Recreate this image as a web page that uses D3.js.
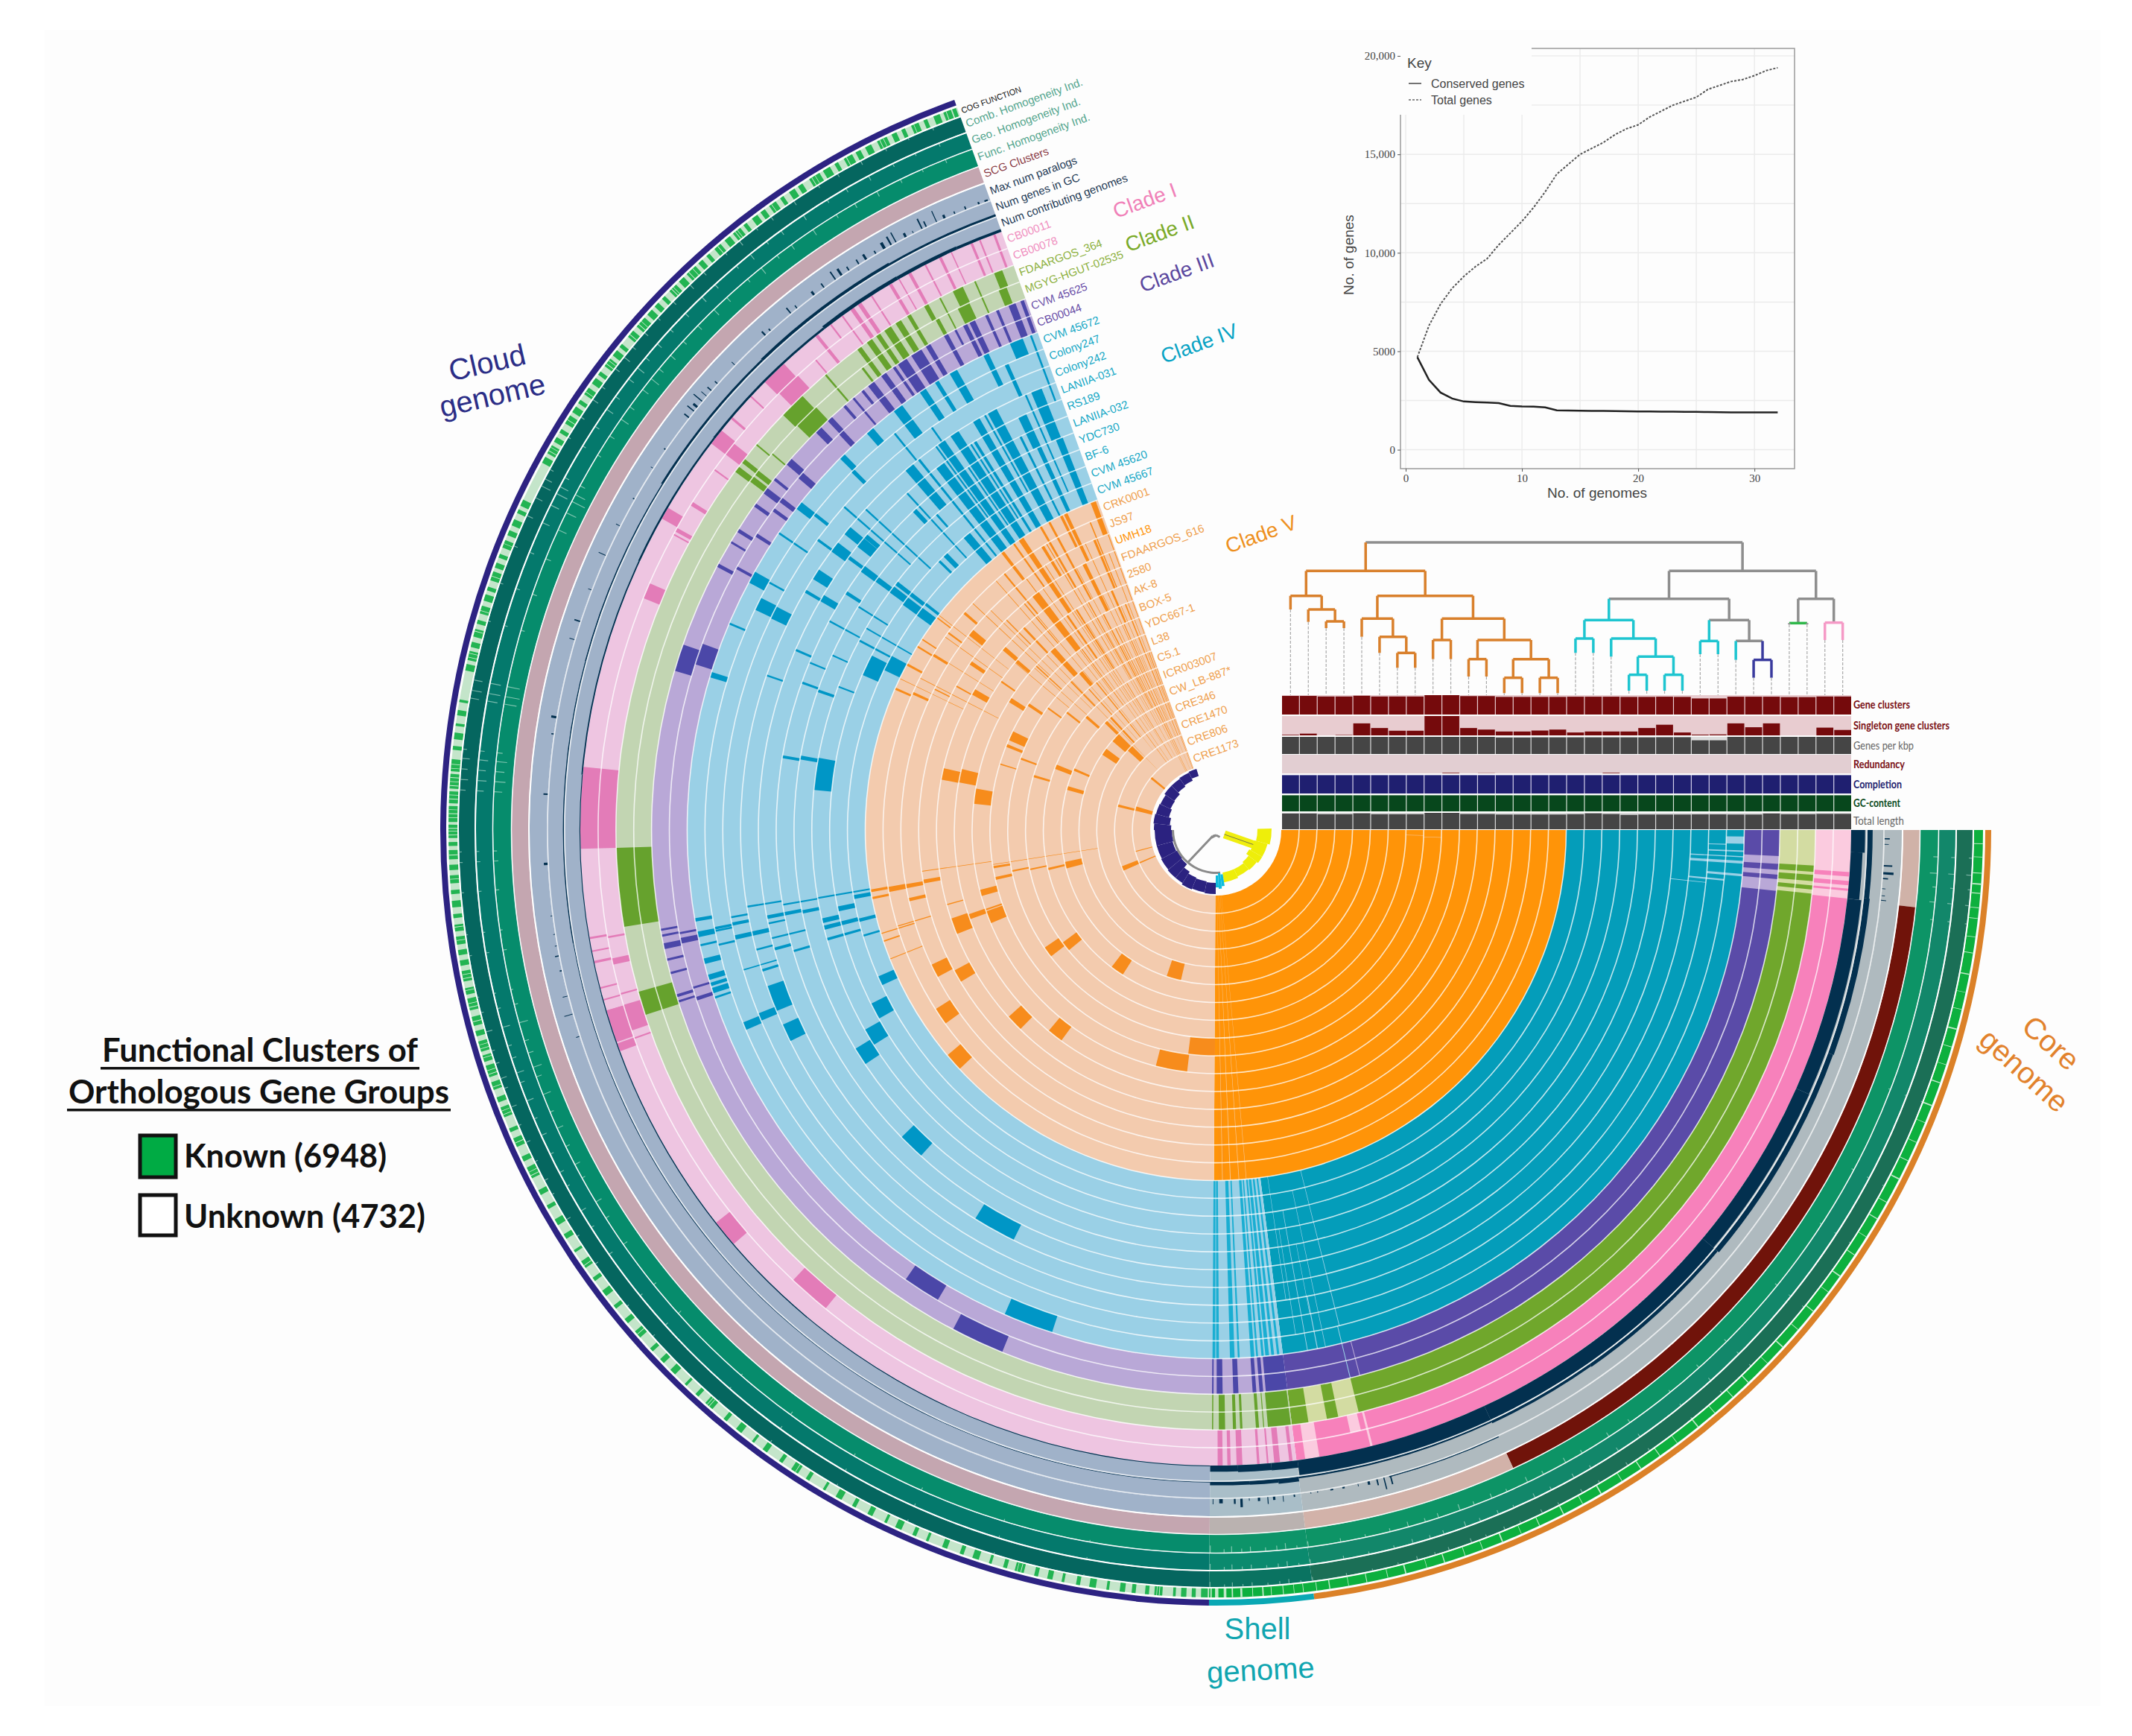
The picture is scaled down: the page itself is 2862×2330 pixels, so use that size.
<!DOCTYPE html>
<html>
<head>
<meta charset="utf-8">
<script src="https://cdn.jsdelivr.net/npm/d3@7"></script>
<style>
body { margin: 0; background: #fff; }
text { font-family: "Liberation Sans", Arial, sans-serif; }
</style>
</head>
<body>
<div id="chart"></div>
<script>
// genomes, outermost ring first
var clade1 = ["CB00011", "CB00078"];
var clade2 = ["FDAARGOS_364", "MGYG-HGUT-02535"];
var clade3 = ["CVM 45625", "CB00044"];
var clade4 = ["CVM 45672", "Colony247", "Colony242", "LANIIA-031", "RS189", "LANIIA-032", "YDC730", "BF-6", "CVM 45620", "CVM 45667"];
var clade5 = ["CRK0001", "JS97", "UMH18", "FDAARGOS_616", "2580", "AK-8", "BOX-5", "YDC667-1", "L38", "C5.1", "ICR003007", "CW_LB-887*", "CRE346", "CRE1470", "CRE806", "CRE1173"];
var layerNames = ["Num contributing genomes", "Num genes in GC", "Max num paralogs", "SCG Clusters", "Func. Homogeneity Ind.", "Geo. Homogeneity Ind.", "Comb. Homogeneity Ind.", "COG FUNCTION"];

// pangenome zones in degrees along the arc, clockwise from the start
var coreEnd = 82.7, shellEnd = 90.5, arcEnd = 250.3;

// strips: [position, width, inner ring, outer ring]; ring 0 is the innermost genome
var orangeStrips = [
  [159.8,3.4,11,11],[160.6,1.5,10,10],[159,3,9,9],[144,3,7,7],[142.2,3,6,6],[125,4.5,5,5],[105.8,5.5,4,4],[153.4,2.5,13,13],[150.5,2.5,12,12],
  [145.9,3,14,14],[136.2,3.5,11,11],[128,3.5,10,10],[93.6,6.8,8,8],[100.5,7.5,9,9],[138.5,3,15,15],
  [166.8,2.5,4,4],[166.9,1,5,5],[168,.6,6,6],[168.6,.6,7,7],[167.6,1,8,8],[170.5,.8,8,8],[165,2,9,9],[170,1,12,12],[169.7,1,13,13],[169.7,1.2,14,14],
  [170,.6,15,15],[168.8,.5,15,15],[167.2,.8,13,13],[161.5,.3,15,15],[160.9,.5,9,9],[157.6,2.5,1,1],[165,.8,0,0],[156.7,1.2,0,1],[164.5,.3,11,11],[163.2,.25,13,14],
  [172,.2,9,12],[171.2,.2,3,8],[162.8,.25,14,15],[158.4,.2,14,15],
  [194,2,1,1],[195,3,0,0],[222.7,4,3,3],[215.1,3,3,3],[223.6,3,2,2],[218.9,2,0,0],[204.7,2.5,8,8],[202,1,8,8],[200.1,.7,7,7],[197,.4,8,8],
  [191.6,2.4,11,11],[192,3,10,10],[188,3.6,9,9],[201.6,2,5,5],[203.1,1.2,4,4],[196.5,.9,6,6],[195.8,2,4,4],
  [209.7,1.7,11,11],[212.3,1.5,9,9],[213.8,1,8,8],[214.3,1,12,12],[218.9,1.7,13,13],[220.6,1.2,11,11],[220.3,1,10,10],[220.8,.6,14,14],[204.3,.6,14,14],
  [203.8,.5,15,15],[211.8,.6,14,14],[208.2,.5,15,15],[211.6,.4,15,15],[206.6,.3,13,13],[209,.4,12,12],[213,.3,15,15],[216.4,.4,14,14],[217.3,.3,15,15],
  [214.7,.5,10,10],[216,.6,7,7],[218.3,.8,6,6],[221.2,1.2,5,5],[224.5,1.6,4,4],[225.7,.5,6,7],[222.4,.4,8,9],
  [249.5,1.2,14,15],[244.6,.8,13,15],[243.8,.6,14,15],[236.2,1.2,11,15],[232.6,2,9,12],[232.5,.7,14,15],[247.3,.6,11,13],[246.5,.6,9,10],
  [243.7,1,10,12],[243.6,.3,5,8],[227.9,1.8,8,9],[229.4,1.5,7,7],[240,.5,12,15],[238.6,.7,13,14],[241.6,.5,11,15],[234.8,.4,13,15],[230.5,.4,12,14],
  [246,.3,3,8],[248.2,.4,2,9],[249.4,.3,0,6],[245,.3,1,6],[242.5,.4,4,9],[240.8,.3,6,10],[237.7,.5,7,10],[235.3,.6,8,10],[233.5,.3,5,8],[231,.5,3,6],
  [228,.4,5,6],[226.5,.6,10,11],[225.1,.3,11,12],[227,1,3,4],[229.8,.3,10,12],[247.8,.3,11,14],[250,.2,0,13],[244,.3,0,4],[238.8,.3,1,5],[234,.3,1,3],
  [248.9,.18,3,12],[247.1,.15,0,9],[246.6,.15,2,7],[245.5,.18,6,13],[244.3,.15,2,10],[243,.2,0,7],[242,.15,3,12],[241.1,.18,1,8],[240.3,.15,4,11],[239.4,.2,7,14],[238.1,.15,2,9],[237.2,.18,3,13],[236.6,.15,5,10],[235.8,.18,1,7],[234.4,.15,4,12],[233,.2,6,13],[231.8,.15,2,8],[230.2,.18,7,11],[229,.15,3,6],[228.6,.15,10,14],[226,.15,1,9],[224.3,.15,6,13],[223,.15,9,14],[221.8,.12,6,9],[219.8,.15,7,10],[217.8,.12,11,15],[215.5,.15,11,14],[212,.12,11,13],[207.2,.15,10,14],[205.6,.12,12,15],
  [89.4,.12,0,15],[88.6,.1,0,15]
];
var tealStrips = [
  [159.2,3.2,22,22],[157.7,1.2,23,23],[157.4,1.2,24,24],[154.7,2.2,22,22],[155.8,2,16,16],[152,2.5,17,17],[149.1,2.5,18,18],[147.5,2.5,19,19],
  [133.9,3.5,20,20],[119,5.5,21,21],[110.8,5.5,25,25],
  [170.2,.5,25,25],[168.6,.8,25,25],[167.4,.3,25,25],[165.6,.8,25,25],[163.8,.8,25,25],[163,.5,25,25],[162.3,.8,25,25],[161.5,.3,25,25],
  [168.9,.4,24,24],[167,.3,24,24],[168.6,.3,24,24],[169.8,.3,23,23],[169,.5,23,23],[167.4,.7,22,23],[165.4,.3,22,22],[163.5,.2,22,23],[162.8,.4,22,22],
  [170.7,.3,21,22],[169,.6,20,21],[168.2,.3,21,21],[166.3,.3,20,21],[164.9,.5,21,21],[164,.4,20,20],[170.2,.3,19,20],[168.8,.6,19,19],[167,.9,18,18],
  [166,.8,17,18],[164.3,.5,17,18],[170.3,.3,16,18],[169.5,.8,16,16],[168.2,1,17,17],[165.8,.7,16,16],[163.3,.4,16,16],
  [197.1,.8,25,25],[208.6,1.8,25,25],[206.3,2,24,24],[206.2,2,23,23],[217.9,1.2,25,25],[225,.9,25,25],[229.1,1.2,25,25],[224.7,.6,24,24],[218.2,.5,24,24],
  [209,.3,24,24],[203,.3,25,25],[214.2,.3,24,25],[233,1.5,24,25],[236.3,1,24,25],[238.1,.6,24,25],[240.2,1.2,24,25],[244.2,.8,24,25],[247.8,2,25,25],
  [249.5,.3,22,25],[231,.3,23,24],[234.8,.3,22,23],
  [219.1,1.5,22,22],[219,1.8,21,21],[220,.8,21,21],[216.6,1.8,22,22],[216.1,.4,23,23],[216.6,.6,21,21],[216.5,1,19,19],[216.5,1.2,20,20],[216.6,1.4,18,18],
  [216.4,1.8,17,17],[216.4,2,16,16],[217.7,.8,17,18],[217.9,.6,16,16],[212.6,1.8,22,22],[210.2,.5,22,22],[210.5,1.2,21,21],[212.7,.6,20,20],[208.4,.3,19,20],
  [205.3,3.2,17,17],[207,2.5,16,16],[203.2,.4,21,21],[199.3,.5,19,19],[199.6,.4,20,20],[189.6,.5,20,20],[189.9,.7,19,19],[188,4.6,18,18],
  [210,.3,16,18],[212,.3,18,19],[208,.4,17,18],[204.5,.3,19,19],[202.4,.3,20,20],[200.8,.3,18,18],[199,.3,22,22],[221,.3,19,23],[222.5,.3,18,22],[224.2,.5,17,17],
  [225.5,1,17,17],[226.7,.8,20,20],[228.5,.4,19,19],[227.5,.3,17,21],[231.3,.4,16,22],
  [248.2,1.3,16,19],[247.8,1.8,20,22],[241.9,1.6,16,22],[239.7,1.2,16,22],[236.6,1.5,16,22],[234.7,1.3,16,22],[232.9,1.6,16,21],[229.8,1.6,16,17],[229.8,1.6,20,22],
  [245.2,.8,16,21],[243.6,.4,16,20],[238.2,.5,16,21],[246.4,.3,17,22],[244.7,.8,20,21],[237.6,.3,17,21],[240.9,.3,18,22],[235.7,.3,17,20],[233.9,.3,18,22],[245.8,.6,23,24]
];
var purpleStrips = [
  [122.6,4,26,26],[115,5.5,27,27],[197.8,2.8,27,27],[198.8,2.3,26,26],
  [169.8,.3,27,27],[169.2,.3,27,27],[168.1,.8,27,27],[166.7,.3,27,27],[165.3,.3,27,27],[162.9,.4,27,27],[162.3,.3,27,27],
  [169.1,.3,26,26],[168.3,.8,26,26],[163.2,.3,26,26],[162,.5,26,26],
  [208,.5,27,27],[208.7,.4,26,26],[210.7,.3,27,27],[212.1,.5,27,27],[212.7,.5,26,26],[215.2,.5,27,27],[215.9,.5,26,26],[217,.9,27,27],[217.2,.7,26,26],
  [218.5,.4,27,27],[220.8,1,27,27],[220.5,1,26,26],[225.2,1,27,27],[226.8,.8,27,27],[226.7,.8,26,26],[228.8,.4,27,27],
  [232.3,1,26,27],[233.9,.8,26,27],[236.2,1.4,26,27],[237.9,1.6,26,27],[235.2,.4,26,27],[231.2,.4,27,27],[230,.3,26,27],[239.3,.7,26,27],
  [241.4,.6,26,27],[243.6,.6,26,27],[244.4,.8,26,27],[242.5,.3,27,27],[246,.4,26,27],[247.2,.4,26,27],[248.8,1,26,27],[249.9,.5,26,27],
  [90.3,.2,26,27],[89.6,.8,26,27],[87.95,.7,26,27],[86.05,.5,26,27],[85.35,.5,26,27],[83.8,2.2,26,27]
];
var greenStrips = [
  [174.5,7.6,28,29],[163.2,2.3,28,29],[225.1,2.6,29,29],[225.3,2.6,28,28],[217,.8,29,29],[218,.6,29,29],[217.9,.7,28,28],[217.1,.8,28,28],
  [220,.2,29,29],[220.3,.2,28,28],[229.4,.25,28,29],
  [233.5,.6,28,29],[234.7,.8,28,29],[235.7,.6,28,29],[236.8,1,28,29],[238,.8,28,29],[239.2,.5,28,29],[232.6,.3,28,28],[241.1,.6,29,29],[241.4,.5,28,28],
  [242.6,.2,28,29],[244.5,1.4,29,29],[244.3,1.7,28,28],[246.3,.2,28,29],[248.7,1.1,29,29],[248.5,1.1,28,28],
  [90.3,.15,28,29],[89.4,.8,28,29],[88.2,.4,28,29],[87.55,.3,28,29],[86,.4,28,29],[85.4,.12,28,29],[83.9,2.2,28,29]
];
var pinkStrips = [
  [226,2.4,31,31],[226.2,2.4,30,30],[218.2,2,31,31],[218.1,1.7,30,30],[209.9,1.5,31,31],[202.8,2,30,30],[211.9,.5,30,30],[209.1,.5,30,30],[208.6,.2,30,30],
  [220.4,.3,31,31],[215.7,.2,30,30],[140.6,2.5,31,31],[131.2,4,30,30],[182,7.4,30,31],[162.3,2.5,30,30],[162,3,31,31],[160,1,31,31],[170.2,.25,31,31],[170,.25,30,30],
  [169,.2,31,31],[167.7,.8,30,30],[168,.3,31,31],[165.6,.2,31,31],[164.5,.2,31,31],[164.6,.2,30,30],[163.4,.25,31,31],[160.3,.2,30,30],
  [231.1,.4,30,31],[229.6,.2,30,30],[232.7,.2,31,31],[235.1,.5,30,31],[235.9,.5,30,31],[234,.2,30,31],[237.2,.2,30,31],[239.2,.4,30,31],[241.2,.4,30,31],[240.1,.15,30,31],
  [244.3,.35,30,31],[242.8,.2,30,31],[245.4,.15,30,31],[247.4,.3,30,31],[248.2,.2,30,31],[249.6,.3,30,31],[223,.2,31,31],
  [89.6,.6,30,31],[88.8,.4,30,31],[87.85,.7,30,31],[86.15,.3,30,31],[85.3,.2,30,31],[84.45,.7,30,31],[83.2,.4,30,31]
];
// pale cuts through the fully filled core: [position, width, inner ring, outer ring]
var coreCuts = [
  [3.05,.8,26,27],[4.3,.5,26,27],[5.6,1.2,26,27],[.8,.1,30,31],[1.8,.08,30,30],
  [2.3,.15,24,25],[2.9,.12,23,25],[3.5,.3,23,25],[4.9,.25,24,25],[1.1,.8,25,25],[5.6,.2,23,24],[6.1,.08,22,23],[1.6,.1,24,24],
  [78.9,.1,23,25],[76.2,.08,25,27],[75.2,.08,26,27],
  [1.5,.1,7,7],[1.9,.1,8,8],[76,.08,16,24],[78,.06,17,25],[80,.08,18,25],[81,.06,19,24],[79,.05,20,23],[81.5,.06,16,22]
];
var paleBlocks = [
  // green rings, then pink rings: [start, end, inner ring, outer ring]
  [0,3.4,28,29],[4,4.3,28,29],[4.9,5.3,28,29],[5.7,6.1,28,29],[79.3,81.1,28,29],[76.2,78.2,28,29],
  [0,3.8,30,31],[4.2,4.6,30,31],[5,5.3,30,31],[5.5,6.2,30,31],[80.6,81.9,30,31],[76.4,77.4,30,30],[75.7,75.9,30,31]
];

// filled share of the three bar rings: [from, to, share]
var contributingBars = [[0,2,.85],[2,6.2,.72],[6.2,24,.85],[24,40,.87],[40,65,.92],[65,82.6,.95],[82.6,85,.45],[85,88,.42],[88,90.5,.38],[90.5,130,.05],[130,165,.06],[165,185,.05],[185,205,.08],[205,218,.11],[218,232,.14],[232,240,.22],[240,246,.2],[246,250.3,.17]];
var genesBars = [[0,6,.3],[6,20,.34],[20,40,.3],[40,55,.2],[55,65,.16],[65,82.7,.1],[82.7,84.5,.28],[84.5,87,.22],[87,90.5,.2],[90.5,140,.03],[140,170,.04],[170,195,.06],[195,212,.07],[212,226,.13],[226,240,.17],[240,250.3,.13]];
var paralogBars = [[3,.12,.5],[3.6,.2,.6],[4.1,.12,.3],[.7,.1,.3],[1.2,.06,.25],[5,.06,.2],[5.6,.06,.2],[6,.06,.3],
  [65,10,.06],[74.8,.12,.5],[75.4,.1,.7],[76,.12,.35],[76.7,.2,.2],[77.7,.06,.15],[78.9,.2,.1],[79.9,.25,.08],[81.2,.1,.07],[81.8,.06,.08],
  [83.2,.12,.15],[84.2,.06,.35],[84.9,.2,.2],[85.5,.08,.4],[86.2,.2,.2],[87.1,.06,.15],[87.7,.2,.5],[88.3,.15,.3],[89.4,.3,.25],[90.2,.06,.3],
  [162,.06,.2],[164,.06,.5],[165.6,.06,.3],[167.8,.12,.12],[169.1,.1,.22],[170,.06,.12],[171,.06,.1],[172.6,.06,.1],[177,.2,.22],[183,.12,.25],[189.6,.2,.3],[188.2,.1,.14],[196.5,.06,.3],[198.1,.12,.35],
  [201,.06,.2],[204.2,.06,.45],[207,.06,.25],[209.6,.1,.1],[212.7,.06,.15],[214.6,.12,.1],[218,.12,.35],[218.7,.1,.5],[219.1,.2,.3],[219.8,.1,.65],[220.4,.06,.4],[221,.12,.3],[221.8,.1,.2],
  [224,.06,.25],[227.6,.15,.3],[228.2,.12,.15],[230.5,.12,.4],[231.2,.1,.2],[233,.2,.25],[234.1,.12,.3],[235.3,.12,.55],[235.9,.2,.45],[236.7,.12,.25],[237.7,.12,.3],[238.4,.2,.35],[239.4,.12,.2],
  [240.2,.25,.4],[240.9,.15,.55],[241.4,.1,.65],[242.3,.2,.25],[243.1,.06,.15],[243.9,.12,.65],[244.3,.12,.35],[245.3,.08,.7],[246,.2,.22],[247,.1,.15],[248,.12,.18],[249.2,.15,.14],[249.8,.3,.1]];
// light spikes from the outer edge of the homogeneity rings: [position, share]
var homogeneitySpikes = [[2.1,.25],[3.4,.4],[4.5,.2],[5.7,.3],[7.1,.15],[21,.1],[28,.12],[33,.1],[39,.14],[45,.16],[48,.2],[51,.12],[55,.2],[57,.25],[59.5,.18],[61,.28],[63,.2],[64.4,.3],[66.2,.15],[67.5,.25],[69,.2],[70.2,.35],[72,.25],[73.1,.2],[74.5,.28],[76,.18],[78,.16],[80,.2],[82.6,.3],
  [83.5,.15],[84.4,.35],[85.1,.25],[86,.2],[87.2,.3],[87.9,.2],[88.7,.35],[89.3,.2],[90.4,.4],[100,.1],[107,.12],[114,.16],[120,.14],[126,.18],[131,.1],[138,.2],[141,.16],[145,.25],[147.5,.2],[149,.35],[151.2,.18],[152.4,.3],[154,.22],[155.6,.35],[157,.2],[158.5,.45],[160,.3],[160.8,.5],[162,.3],[163,.25],[164.5,.5],[166,.2],[167.2,.12],[170.4,.2],[172,.14],[175.2,.2],[177.5,.25],[178.3,.2],[183,.45],[183.8,.6],[184.6,.5],[185.4,.6],[186.1,.3],[190,.7],[190.6,.8],[191.4,.7],[196,.2],[199,.25],[202,.3],[204.5,.5],[206,.6],[207,.8],[207.6,.6],[208.4,.3],[211.2,.2],[213,.3],[214.6,.5],[215.8,.3],[217.5,.4],[218.6,.55],[219.6,.3],[221,.35],[222.5,.25],[224.2,.3],[226,.4],[227.4,.3],[229.6,.2],[231,.4],[232.6,.2],[234,.3],[236.1,.35],[238.3,.2],[240,.25],[242,.3],[244.1,.2],[246,.15],[248,.2]];
// COG ring: stretches with a known function in the cloud, then the thin gaps inside them and in the core
var cogKnownCloud = [[90.6,.5],[91.5,.3],[92.2,.4],[93,.2],[94,.6],[95,.3],[96,.3],[96.8,.4],[98,.2],[99,.5],[100.2,.3],[101.4,.2],[102.3,.4],[103.4,.3],[104.5,.7],[105.8,.3],[107,.2],[108,.5],[109.2,.3],[110.5,.4],[112,.2],[113,.3],[114.2,.5],[115.4,.2],[116.6,.4],[118,.3],[119.2,.5],[120.6,.2],[122,.3],[123,.6],[124.4,.3],[125.8,.4],[127,.2],[128.2,.5],[129.6,.3],[131,.7],[132.4,.3],[133.6,.2],[134.8,.5],[136,.4],[137.2,.3],[138.6,.6],[140,.4],[141.4,.3],[142.6,.5],[144,.3],[145.2,.6],[146.6,.2],[147.8,.4],[149,.5],[150.4,.3],[151.6,.4],[153,.9],[154.4,.4],[155.6,.7],[156.8,.3],[158,.8],[159.2,.4],[160.2,.6],[161.2,.9],[162.4,.5],[163.2,.8],[164.4,.4],[165.2,.7],[166.4,.9],[167.6,.5],[168.6,.8],[169.8,.4],[170.6,.4],[171.4,.6],[172.4,.5],[173.4,.3],[174.2,.5],[175.2,.3],[176,.6],[177,.4],[177.8,.7],[178.8,.3],[179.4,1],[180.6,1.2],[182,.9],[183.1,1.1],[184.4,.9],[186,.3],[186.8,.5],[187.8,.2],[188.6,.4],[189.6,.2],[192,.5],[192.8,.7],[193.8,.4],[194.6,.6],[195.6,.3],[196.4,.6],[197.4,.5],[198.2,.3],[199,.7],[200,.4],[200.8,.3],[201.6,.6],[202.6,.4],[203.4,.5],[204.4,.3],[205,.5],[208.6,.5],[209.4,.7],[210.4,.4],[211.2,.3],[212,.7],[213,.5],[213.8,.3],[214.6,.6],[215.6,.5],[216.4,.3],[217.2,.7],[218.2,.5],[219,.3],[220,.6],[221,.9],[222.2,.5],[223,.4],[223.8,.3],[224.6,.7],[225.6,.5],[226.4,.9],[227.6,.4],[228.4,.3],[229.2,.6],[230.2,.5],[231,.7],[232,.3],[232.8,.5],[233.6,.4],[234.4,.6],[235.4,.3],[236.2,.5],[237,.4],[238,.9],[239.2,.6],[240.2,.3],[241,.7],[242,.4],[242.8,.5],[243.8,.8],[245,.4],[245.8,.3],[246.6,.6],[247.6,.3],[248.4,.5],[249.2,.6],[249.9,.3]];
var cogGapsCloud = [[94.2,.05],[94.4,.04],[104.7,.05],[105,.04],[123.2,.05],[131.3,.05],[131.5,.04],[138.9,.05],[145.4,.05],[153.2,.05],[153.5,.04],[155.9,.05],[158.2,.05],[158.5,.04],[160.4,.05],[161.4,.05],[161.7,.04],[162.7,.04],[163.4,.05],[163.7,.04],[165.5,.05],[166.6,.05],[166.9,.04],[167.9,.04],[168.8,.05],[169.1,.04],[171.7,.04],[172.7,.05],[176.3,.04],[178.1,.05],[179.6,.05],[179.9,.04],[180.1,.05],[180.9,.04],[181.2,.05],[181.5,.04],[182.3,.05],[182.6,.04],[183.3,.05],[183.6,.04],[183.9,.05],[184.6,.04],[184.9,.05],[193,.05],[193.3,.04],[195,.05],[196.6,.04],[199.3,.05],[201.9,.04],[209.6,.05],[209.9,.04],[212.3,.05],[214.8,.04],[217.4,.05],[217.7,.04],[220.2,.05],[221.2,.05],[221.5,.04],[224.8,.05],[225,.04],[226.6,.05],[227,.04],[229.5,.05],[231.2,.05],[231.4,.04],[234.6,.04],[238.2,.05],[238.5,.04],[241.2,.05],[244,.05],[244.3,.04],[246.8,.04],[249.4,.05]];
var cogGapsCore = [[1,.05],[2,.04],[3.2,.06],[4,.1],[4.7,.08],[5.8,.05],[6.6,.05],[8,.04],[9.2,.06],[10.8,.08],[12.2,.04],[13.5,.05],[15,.1],[16.4,.05],[17.8,.04],[19.2,.08],[21,.1],[22.4,.04],[24,.05],[25.5,.06],[27,.1],[29,.05],[30.4,.08],[32,.04],[33.6,.06],[35.5,.1],[37,.04],[38.8,.08],[40.6,.05],[42.3,.1],[44,.04],[46,.08],[47.6,.06],[49.4,.05],[51,.1],[53,.04],[54.6,.06],[56.3,.08],[58,.05],[59.8,.1],[61.4,.05],[63,.08],[65,.06],[66.5,.04],[68,.1],[69.6,.05],[71,.05],[72.6,.08],[74,.04],[75.6,.1],[77,.05],[78.6,.06],[80,.04],[81.4,.08],[82.4,.05],
  [83.4,.05],[84.1,.04],[84.9,.06],[85.8,.05],[86.4,.1],[87.2,.05],[88,.15],[88.7,.1],[89.2,.2],[89.8,.25],[90.3,.1]];

// dendrogram above the heatmap: h = distance, leaves are column numbers
var cladeTree = { h: 615, c: "#8e8e8e", children: [
  { h: 500, c: "#d9802c", children: [
    { h: 400, children: [{ leaf: 0, h: 345 }, { h: 345, children: [{ leaf: 1, h: 295 }, { h: 297, children: [{ leaf: 2, h: 270 }, { leaf: 3, h: 270 }] }] }] },
    { h: 400, children: [
      { h: 308, children: [{ leaf: 4, h: 235 }, { h: 235, children: [{ leaf: 5, h: 170 }, { h: 170, children: [{ leaf: 6, h: 110 }, { leaf: 7, h: 110 }] }] }] },
      { h: 308, children: [
        { h: 222, children: [{ leaf: 8, h: 145 }, { leaf: 9, h: 145 }] },
        { h: 222, children: [
          { h: 145, children: [{ leaf: 10, h: 75 }, { leaf: 11, h: 75 }] },
          { h: 145, children: [
            { h: 70, children: [{ leaf: 12, h: 8 }, { leaf: 13, h: 8 }] },
            { h: 70, children: [{ leaf: 14, h: 8 }, { leaf: 15, h: 8 }] }
          ] }
        ] }
      ] }
    ] }
  ] },
  { h: 500, c: "#8e8e8e", children: [
    { h: 388, children: [
      { h: 302, c: "#1ec5d0", children: [
        { h: 228, children: [{ leaf: 16, h: 170 }, { leaf: 17, h: 170 }] },
        { h: 228, children: [{ leaf: 18, h: 155 }, { h: 155, children: [
          { h: 82, children: [{ leaf: 19, h: 18 }, { leaf: 20, h: 18 }] },
          { h: 82, children: [{ leaf: 21, h: 18 }, { leaf: 22, h: 18 }] }
        ] }] }
      ] },
      { h: 302, children: [
        { h: 218, c: "#1ec5d0", children: [{ leaf: 23, h: 165 }, { leaf: 24, h: 165 }] },
        { h: 218, children: [{ leaf: 25, c: "#1ec5d0", h: 142 }, { h: 142, c: "#3a3b9e", children: [{ leaf: 26, h: 70 }, { leaf: 27, h: 70 }] }] }
      ] }
    ] },
    { h: 388, children: [
      { h: 290, bar: "#2fb84a", children: [{ leaf: 28, h: 285 }, { leaf: 29, h: 285 }] },
      { h: 292, bar: "#f59ac6", children: [{ leaf: 30, h: 222, c: "#f59ac6" }, { leaf: 31, h: 222, c: "#f59ac6" }] }
    ] }
  ] }
] };

// heatmap above the core, one value per genome column, share of the cell
var heatLayers = ["Gene clusters", "Singleton gene clusters", "Genes per kbp", "Redundancy", "Completion", "GC-content", "Total length"];
var geneClusters = [.96,.96,.93,.93,.97,.93,.93,.93,1,1,.95,.95,.91,.91,.91,.91,.92,.92,.92,.91,.91,.92,.91,.83,.83,.92,.92,.92,.9,.9,.93,.93];
var singletons = [.03,.09,0,.02,.62,.38,.24,.24,1,1,.38,.3,.2,.2,.25,.3,.15,.2,.2,.2,.38,.55,.15,.04,.05,.62,.42,.62,0,0,.4,.28];
var genesPerKbp = [1,1,1,1,1,1,1,1,1,1,1,1,.96,.96,.97,.97,.97,.97,.97,.97,.97,.98,.98,.8,.8,1,1,1,1,1,1,1];
var redundancy = [0,0,0,0,0,0,0,0,0,.03,0,.01,0,0,0,0,0,0,.03,0,0,0,0,0,0,0,0,0,0,0,0,0];
var completion = [.98,.98,.98,.98,.98,.98,.98,.98,.98,.98,.98,.98,.98,.98,.98,.98,.98,.98,.98,.98,.98,.98,.98,.98,.98,.98,.98,.98,.98,.98,.98,.98];
var gcContent = [.98,.98,.98,.98,.98,.98,.98,.98,.98,.98,.98,.98,.98,.98,.98,.98,.98,.98,.98,.98,.98,.98,.98,.98,.98,.98,.98,.98,.98,.98,.98,.98];
var totalLength = [.96,.96,.92,.92,.97,.92,.92,.92,1,1,.93,.93,.9,.9,.9,.9,.92,.97,.93,.88,.9,.9,.9,.91,.91,.9,.9,.96,.92,.92,.94,.94];

// core gene-cluster tree in the centre of the spiral: [from, to, inner, outer]
var navyBranches = [[90,100,71,86],[100,112,70,85],[112,122,69,86],[122,130,66,84],[130,140,60,84],[140,152,59,83],[152,165,60,82],[165,180,59,82],[180,186,60,83],[186,195,62,84],[195,205,65,83],[205,215,67,82],[215,225,68,84],[225,235,71,84],[235,245,73,85],[245,252.5,76,86]];
var yellowBranches = [[-1.5,15,56,75],[15,30,54,72],[30,38,52,72],[38,50,56,70],[50,65,58,69],[65,81,58,71]];
var cyanBranches = [[81,84,60,76],[84,87,58,79],[87,90,61,77]];
var treeStem = [[84,58],[180,58]];
var greySpokes = [[130.7,57,116,9],[116,9,85,7],[85,7,60,11],[85,7,120,12]];
var yellowSpoke = [[27,13],[21,59]];

// rarefaction inset
var genomesCount = [1,2,3,4,5,6,7,8,9,10,11,12,13,14,15,16,17,18,19,20,21,22,23,24,25,26,27,28,29,30,31,32];
var totalGenes = [4700,6300,7400,8200,8800,9300,9700,10400,11000,11600,12300,13100,14000,14500,15000,15300,15600,16000,16300,16500,16900,17200,17500,17700,17900,18300,18500,18700,18800,19000,19250,19400];
var conservedGenes = [4700,3550,2900,2600,2450,2420,2400,2370,2230,2200,2190,2150,2000,1990,1980,1975,1970,1960,1950,1945,1940,1935,1930,1925,1920,1910,1905,1900,1900,1900,1900,1900];

var cx = 1632, cy = 1114;
var svg = d3.select("#chart").append("svg").attr("width", 2862).attr("height", 2330);
svg.append("rect").attr("x", 60).attr("y", 40).attr("width", 2760).attr("height", 2250).attr("fill", "#fdfdfd");
var g = svg.append("g").attr("transform", "translate(" + cx + "," + cy + ")");

var angle = d3.scaleLinear().domain([0, 360]).range([Math.PI / 2, Math.PI * 2.5]);
var ring = d3.scaleLinear().domain([0, 32]).range([88, 853]);
var arc = d3.arc();

function band(p0, p1, r0, r1) {
  return arc({ innerRadius: r0, outerRadius: r1, startAngle: angle(p0), endAngle: angle(p1) });
}
function polar(p, r) {
  var t = p * Math.PI / 180;
  return [r * Math.cos(t), r * Math.sin(t)];
}
function wedge(layer, p0, p1, r0, r1, color) {
  layer.append("path").attr("d", band(p0, p1, r0, r1)).attr("fill", color);
}

// genome rings
var clades = [
  { lo: 0, hi: 15, core: "#ff9408", cloud: "#f3cbae", strip: "#f78c1c", strips: orangeStrips, shellFrom: 90.3 },
  { lo: 16, hi: 25, core: "#049dba", cloud: "#9ad0e6", strip: "#0096c6", strips: tealStrips, shellFrom: coreEnd },
  { lo: 26, hi: 27, core: "#5a4ba8", cloud: "#b9a8d7", strip: "#4b47a8", strips: purpleStrips, shellFrom: coreEnd },
  { lo: 28, hi: 29, core: "#70a72c", cloud: "#c2d5b2", strip: "#66a22d", strips: greenStrips, shellFrom: coreEnd },
  { lo: 30, hi: 31, core: "#f781bb", cloud: "#eec5e1", strip: "#e37cb8", strips: pinkStrips, shellFrom: coreEnd }
];
var genomeLayer = g.append("g");
clades.forEach(function(c) {
  wedge(genomeLayer, 0, c.shellFrom, ring(c.lo), ring(c.hi + 1), c.core);
  wedge(genomeLayer, c.shellFrom, arcEnd, ring(c.lo), ring(c.hi + 1), c.cloud);
  genomeLayer.selectAll(null).data(c.strips).enter().append("path")
    .attr("d", function(d) {
      // blur in the source narrows the thin strips
      var w = d[1] > 2 ? d[1] : d[1] * .75;
      return band(d[0] - w / 2, d[0] + w / 2, ring(d[2]), ring(d[3] + 1));
    })
    .attr("fill", c.strip);
});
// shell stripes in the teal rings
[[90.2,.3],[89.8,.3],[88.2,.5],[87.5,.2],[86,.4],[85.5,.2],[84.9,.25],[84.4,.4],[83.8,.3],[83.2,.25]].forEach(function(d) {
  wedge(genomeLayer, d[0] - d[1] / 2, d[0] + d[1] / 2, ring(16), ring(26), "#1aaed2");
});
coreCuts.forEach(function(d) {
  var c = clades.filter(function(k) { return d[2] >= k.lo && d[2] <= k.hi; })[0];
  wedge(genomeLayer, d[0] - d[1] / 2, d[0] + d[1] / 2, ring(d[2]), ring(d[3] + 1), c.cloud);
});
paleBlocks.forEach(function(d) {
  var c = clades.filter(function(k) { return d[2] >= k.lo && d[2] <= k.hi; })[0];
  var pale = c.lo == 28 ? "#d3dca2" : "#fbcbdf";
  wedge(genomeLayer, d[0], d[1], ring(d[2]), ring(d[3] + 1), pale);
});
// lines across the orange of the shell
[[88.9,.1],[87.6,.12],[86.2,.1],[85,.08]].forEach(function(d) {
  wedge(genomeLayer, d[0] - d[1] / 2, d[0] + d[1] / 2, ring(0), ring(16), "#f7c48e");
});

// bar rings and homogeneity rings
var radii = { cont: [853, 875], genes: [875, 898], para: [898, 921], scg: [923, 945], func: [946, 970], geo: [971, 993], comb: [995, 1016], cog: [1018, 1030], zone: [1033, 1041] };
var outer = g.append("g");
[radii.cont, radii.genes, radii.para].forEach(function(r) {
  wedge(outer, 0, coreEnd, r[0], r[1], "#afbabf");
  wedge(outer, coreEnd, shellEnd, r[0], r[1], "#a9bec8");
  wedge(outer, shellEnd, arcEnd, r[0], r[1], "#a0b2c9");
});
var navy = "#03304f";
contributingBars.forEach(function(d) { wedge(outer, d[0], d[1], radii.cont[0], radii.cont[0] + 22 * d[2], navy); });
genesBars.forEach(function(d) { wedge(outer, d[0], d[1], radii.genes[0], radii.genes[0] + 23 * d[2], navy); });
paralogBars.forEach(function(d) { wedge(outer, d[0], d[0] + d[1], radii.para[0], radii.para[0] + 23 * d[2], navy); });

wedge(outer, 0, 6.3, radii.scg[0], radii.scg[1], "#d0b2a8");
wedge(outer, 6.3, 65, radii.scg[0], radii.scg[1], "#70130a");
wedge(outer, 65, coreEnd, radii.scg[0], radii.scg[1], "#d2b2a9");
wedge(outer, coreEnd, shellEnd, radii.scg[0], radii.scg[1], "#bab2b0");
wedge(outer, shellEnd, arcEnd, radii.scg[0], radii.scg[1], "#c4a6b0");

var homRings = [
  { r: radii.func, core: "#0d9466", shell: "#0d9469", cloud: "#068c6c", spike: "#bfe2d2" },
  { r: radii.geo, core: "#12876a", shell: "#0b8a6e", cloud: "#04796c", spike: "#b5dcd0" },
  { r: radii.comb, core: "#1b6f56", shell: "#0a7361", cloud: "#05665f", spike: "#a9d3c6" }
];
homRings.forEach(function(h, i) {
  wedge(outer, 0, coreEnd, h.r[0], h.r[1], h.core);
  wedge(outer, coreEnd, shellEnd, h.r[0], h.r[1], h.shell);
  wedge(outer, shellEnd, arcEnd, h.r[0], h.r[1], h.cloud);
  outer.selectAll(null).data(homogeneitySpikes).enter().append("path")
    .attr("d", function(d) { return band(d[0], d[0] + .07, h.r[1] - (h.r[1] - h.r[0]) * d[1] * (1 - i * .1), h.r[1]); })
    .attr("fill", h.spike).attr("opacity", .65);
});

// COG function
wedge(outer, 0, shellEnd, radii.cog[0], radii.cog[1], "#0db03e");
outer.selectAll(null).data(cogGapsCore).enter().append("path")
  .attr("d", function(d) { return band(d[0], d[0] + d[1], radii.cog[0], radii.cog[1]); })
  .attr("fill", "#bfe8c8");
wedge(outer, shellEnd, arcEnd, radii.cog[0], radii.cog[1], "#c4e5ca");
outer.selectAll(null).data(cogKnownCloud).enter().append("path")
  .attr("d", function(d) { return band(d[0], d[0] + d[1], radii.cog[0], radii.cog[1]); })
  .attr("fill", "#22b452");
outer.selectAll(null).data(cogGapsCloud).enter().append("path")
  .attr("d", function(d) { return band(d[0], d[0] + d[1], radii.cog[0], radii.cog[1]); })
  .attr("fill", "#d3ecd7");

wedge(outer, 0, coreEnd, radii.zone[0], radii.zone[1], "#db8128");
wedge(outer, coreEnd, shellEnd, radii.zone[0], radii.zone[1], "#0aa8b4");
wedge(outer, shellEnd, arcEnd, radii.zone[0], radii.zone[1], "#2d2382");

// white lines between the rings
var lineRadii = d3.range(1, 32).map(function(i) { return ring(i); }).concat([874, 897, 922, 945.5, 970.5, 994, 1017]);
outer.selectAll(null).data(lineRadii).enter().append("path")
  .attr("d", function(r) { return band(0, arcEnd, r - .8, r + .8); })
  .attr("fill", "#fff").attr("opacity", .75);

// centre tree
var centre = g.append("g");
centre.append("path").attr("d", band(treeStem[0][0], treeStem[1][0], treeStem[0][1] - 2, treeStem[0][1] + 1)).attr("fill", "#8a8a8a");
var spokeLine = d3.line();
greySpokes.forEach(function(d) {
  centre.append("path").attr("d", spokeLine([polar(d[0], d[1]), polar(d[2], d[3])])).attr("stroke", "#8a8a8a").attr("stroke-width", 3).attr("fill", "none");
});
centre.append("path").attr("d", spokeLine(yellowSpoke.map(function(d) { return polar(d[0], d[1]); }))).attr("stroke", "#f0ee0e").attr("stroke-width", 11).attr("fill", "none");
centre.append("path").attr("d", spokeLine(yellowSpoke.map(function(d) { return polar(d[0], d[1]); }))).attr("stroke", "#77774a").attr("stroke-width", 1).attr("fill", "none");
navyBranches.forEach(function(d) { wedge(centre, d[0], d[1], d[2], d[3], "#2b2280"); });
yellowBranches.forEach(function(d) { wedge(centre, d[0], d[1], d[2], d[3], "#eeee0a"); });
cyanBranches.forEach(function(d) { wedge(centre, d[0], d[1], d[2], d[3], "#0fbbdc"); });

// ring labels at the open end of the spiral
var labelLayer = g.append("g");
function ringLabel(name, r, color, size) {
  var p = polar(arcEnd, r);
  labelLayer.append("text").attr("transform", "translate(" + p[0] + "," + p[1] + ") rotate(-20)")
    .attr("x", 4).attr("dy", ".35em").attr("font-size", size).attr("fill", color).text(name);
}
[[clade5, "#efa04e"], [clade4, "#16a8c6"], [clade3, "#6a4fa8"], [clade2, "#8db13f"], [clade1, "#f08fc0"]].reduce(function(start, c) {
  c[0].slice().reverse().forEach(function(name, i) {
    var col = name == "UMH18" ? "#ff9408" : c[1];
    ringLabel(name, ring(start + i + .5), col, 15);
  });
  return start + c[0].length;
}, 0);
var layerRadii = [radii.cont, radii.genes, radii.para, radii.scg, radii.func, radii.geo, radii.comb, radii.cog];
var layerColors = ["#1d3a55", "#1d3a55", "#1d3a55", "#8a3b45", "#53a58e", "#53a58e", "#53a58e", "#111"];
layerNames.forEach(function(name, i) {
  var r = layerRadii[i];
  ringLabel(name, (r[0] + r[1]) / 2, layerColors[i], i == 7 ? 11 : 15);
});

// free text
function label(layer, txt, x, y, size, color, rot) {
  return layer.append("text").attr("transform", "translate(" + x + "," + y + ") rotate(" + rot + ")")
    .attr("text-anchor", "middle").attr("font-size", size).attr("fill", color).text(txt);
}
var notes = svg.append("g");
label(notes, "Clade I", 1540, 278, 28, "#f080b8", -20);
label(notes, "Clade II", 1560, 322, 28, "#7aaa28", -20);
label(notes, "Clade III", 1583, 375, 28, "#5a479e", -20);
label(notes, "Clade IV", 1613, 470, 28, "#09a3c4", -20);
label(notes, "Clade V", 1696, 726, 28, "#ee9020", -20);
label(notes, "Cloud", 657, 500, 40, "#2b2d86", -13);
label(notes, "genome", 664, 544, 40, "#2b2d86", -13);
label(notes, "Shell", 1688, 2200, 40, "#10a5b0", 0);
label(notes, "genome", 1693, 2255, 40, "#10a5b0", -3);
label(notes, "Core", 2744, 1410, 40, "#e2822c", 42);
label(notes, "genome", 2708, 1447, 40, "#e2822c", 42);

// COG legend
var legend = svg.append("g");
function legendText(txt, x, y, w, underline) {
  legend.append("text").attr("x", x).attr("y", y).attr("font-size", 44).attr("font-weight", 700).attr("fill", "#111")
    .attr("font-family", "Lato").style("font-family", "Lato").attr("textLength", w).attr("lengthAdjust", "spacingAndGlyphs").text(txt);
  if (underline) legend.append("rect").attr("x", x - 2).attr("y", y + 7).attr("width", w + 4).attr("height", 3.5).attr("fill", "#111");
}
legendText("Functional Clusters of", 137, 1425, 424, true);
legendText("Orthologous Gene Groups", 92, 1481, 511, true);
legendText("Known (6948)", 247, 1567, 272, false);
legendText("Unknown (4732)", 247, 1648, 324, false);
legend.append("rect").attr("x", 188).attr("y", 1524).attr("width", 48).attr("height", 56).attr("fill", "#00ab44").attr("stroke", "#111").attr("stroke-width", 5);
legend.append("rect").attr("x", 188).attr("y", 1604).attr("width", 48).attr("height", 54).attr("fill", "#fff").attr("stroke", "#111").attr("stroke-width", 5);

// heatmap
var col = d3.scaleBand().domain(d3.range(32)).range([1721, 2485]).paddingInner(.05);
var layerRows = [[933, 959], [961, 987], [989, 1012], [1013, 1038], [1040, 1065], [1067, 1089], [1091, 1113]];
var layerValues = [geneClusters, singletons, genesPerKbp, redundancy, completion, gcContent, totalLength];
var layerFill = ["#750a0c", "#750a0c", "#454545", "#750a0c", "#1f1f70", "#07471c", "#454545"];
var layerBack = ["#e8ccd0", "#e8ccd0", "#dcdcdc", "#e2ced2", "#d3d0ea", "#d5e2d6", "#dcdcdc"];
var labelColor = ["#7a0f14", "#7a0f14", "#666", "#7a0f14", "#1f1f70", "#0a4a1c", "#666"];
var labelWidth = [76, 129, 81, 69, 65, 63, 68];
var heat = svg.append("g");
heatLayers.forEach(function(name, i) {
  var row = layerRows[i];
  var h = d3.scaleLinear().domain([0, 1]).range([row[1], row[0]]);
  heat.append("rect").attr("x", 1721).attr("y", row[0]).attr("width", 764).attr("height", row[1] - row[0]).attr("fill", layerBack[i]);
  heat.selectAll(null).data(layerValues[i]).enter().append("rect")
    .attr("x", function(d, k) { return col(k); })
    .attr("y", function(d) { return h(d); })
    .attr("width", col.bandwidth())
    .attr("height", function(d) { return row[1] - h(d); })
    .attr("fill", layerFill[i]);
  heat.append("text").attr("x", 2488).attr("y", (row[0] + row[1]) / 2 + 5).style("font-family", "Lato").attr("font-weight", i == 2 || i == 6 ? 400 : 700)
    .attr("font-size", 16).attr("fill", labelColor[i]).attr("textLength", labelWidth[i]).attr("lengthAdjust", "spacingAndGlyphs").text(name);
});

// dendrogram
var treeY = d3.scaleLinear().domain([0, 615]).range([933, 728]);
var root = d3.hierarchy(cladeTree);
root.eachAfter(function(n) {
  if (n.data.leaf !== undefined) n.px = col(n.data.leaf) + col.bandwidth() / 2;
  else n.px = (n.children[0].px + n.children[n.children.length - 1].px) / 2;
});
root.each(function(n) {
  n.color = n.data.c || (n.parent ? n.parent.color : "#8e8e8e");
});
var tree = svg.append("g").attr("fill", "none").attr("stroke-width", 3.5);
root.descendants().forEach(function(n) {
  if (n.parent) {
    tree.append("line").attr("x1", n.px).attr("x2", n.px).attr("y1", treeY(n.parent.data.h)).attr("y2", treeY(n.data.h)).attr("stroke", n.color);
  }
  if (n.children) {
    var barColor = n.data.bar || n.color;
    tree.append("line").attr("x1", n.children[0].px).attr("x2", n.children[1].px).attr("y1", treeY(n.data.h)).attr("y2", treeY(n.data.h)).attr("stroke", barColor);
  } else {
    tree.append("line").attr("x1", n.px).attr("x2", n.px).attr("y1", treeY(n.data.h)).attr("y2", 933).attr("stroke", "#aaa").attr("stroke-width", 1.2).attr("stroke-dasharray", "4,2");
  }
});

// inset: genes against genomes
var x = d3.scaleLinear().domain([-0.45, 33.45]).range([1880, 2409]);
var y = d3.scaleLinear().domain([0, 20000]).range([603.6, 75]);
var inset = svg.append("g");
var minorX = [5, 15, 25], majorX = [0, 10, 20, 30];
var minorY = [2500, 7500, 12500, 17500], majorY = [0, 5000, 10000, 15000, 20000];
inset.selectAll(null).data(minorX.concat(majorX)).enter().append("line")
  .attr("x1", x).attr("x2", x).attr("y1", 65).attr("y2", 629).attr("stroke", "#ececec").attr("stroke-width", 1.5);
inset.selectAll(null).data(minorY.concat(majorY)).enter().append("line")
  .attr("x1", 1880).attr("x2", 2409).attr("y1", y).attr("y2", y).attr("stroke", "#ececec").attr("stroke-width", 1.5);
inset.append("rect").attr("x", 1880).attr("y", 65).attr("width", 529).attr("height", 564).attr("fill", "none").attr("stroke", "#9a9a9a").attr("stroke-width", 1.5);
var lineGen = d3.line().x(function(d, i) { return x(genomesCount[i]); }).y(function(d) { return y(d); });
inset.append("path").attr("d", lineGen(totalGenes)).attr("fill", "none").attr("stroke", "#555").attr("stroke-width", 2).attr("stroke-dasharray", "3,2");
inset.append("path").attr("d", lineGen(conservedGenes)).attr("fill", "none").attr("stroke", "#222").attr("stroke-width", 2.5);

inset.append("rect").attr("x", 1878).attr("y", 60).attr("width", 178).attr("height", 94).attr("fill", "#fdfdfd");
inset.append("text").attr("x", 1889).attr("y", 91).attr("font-size", 19).attr("fill", "#444").text("Key");
inset.append("line").attr("x1", 1891).attr("x2", 1908).attr("y1", 112).attr("y2", 112).attr("stroke", "#444").attr("stroke-width", 1.5);
inset.append("line").attr("x1", 1891).attr("x2", 1908).attr("y1", 134).attr("y2", 134).attr("stroke", "#666").attr("stroke-width", 1.5).attr("stroke-dasharray", "3,2");
inset.append("text").attr("x", 1921).attr("y", 118).attr("font-size", 16).attr("fill", "#444").text("Conserved genes");
inset.append("text").attr("x", 1921).attr("y", 140).attr("font-size", 16).attr("fill", "#444").text("Total genes");

var axisB = d3.axisBottom(x).tickValues(majorX).tickSize(4).tickPadding(3);
var axisL = d3.axisLeft(y).tickValues(majorY).tickSize(4).tickPadding(3).tickFormat(function(d) { return d >= 10000 ? d3.format(",")(d) : d; });
[inset.append("g").attr("transform", "translate(0,629)").call(axisB), inset.append("g").attr("transform", "translate(1880,0)").call(axisL)].forEach(function(a) {
  a.select(".domain").remove();
  a.selectAll("line").attr("stroke", "#555");
  a.selectAll("text").attr("font-size", 15).attr("fill", "#444").style("font-family", "Liberation Serif");
});
inset.append("text").attr("x", 2144).attr("y", 668).attr("text-anchor", "middle").attr("font-size", 19).attr("fill", "#444").text("No. of genomes");
inset.append("text").attr("transform", "translate(1817,342) rotate(-90)").attr("text-anchor", "middle").attr("font-size", 19).attr("fill", "#444").text("No. of genes");
</script>
</body>
</html>
